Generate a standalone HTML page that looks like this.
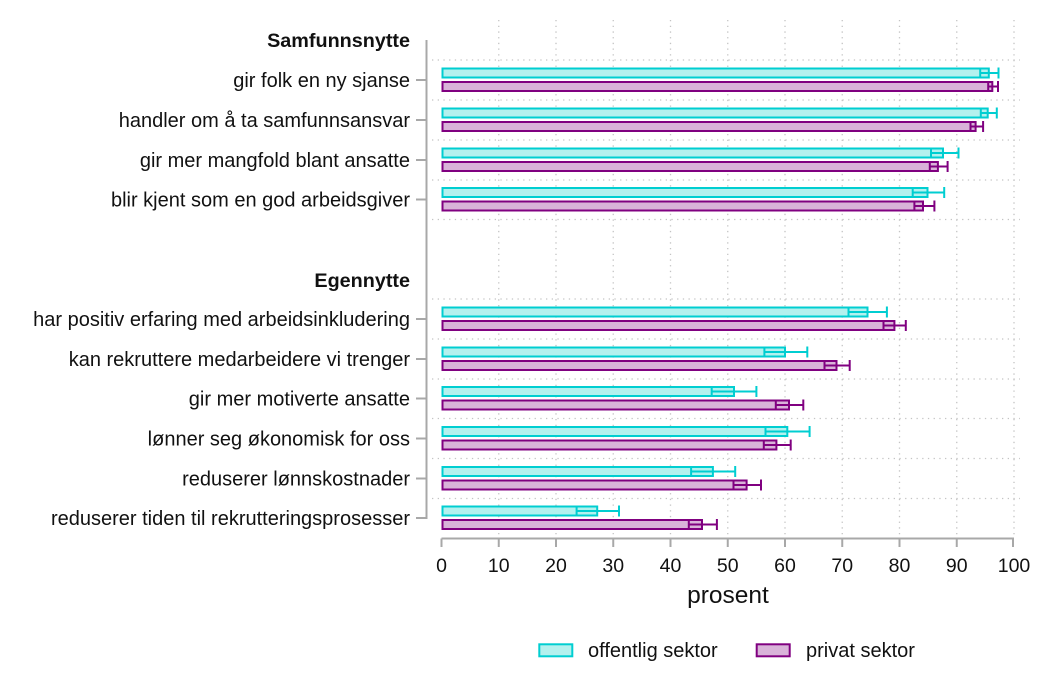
<!DOCTYPE html>
<html>
<head>
<meta charset="utf-8">
<style>
  html, body { margin: 0; padding: 0; background: #ffffff; }
  svg { display: block; }
  text { font-family: "Liberation Sans", Arial, sans-serif; fill: #111; }
</style>
</head>
<body>
<svg width="1047" height="696" viewBox="0 0 1047 696" xmlns="http://www.w3.org/2000/svg">
  <rect x="0" y="0" width="1047" height="696" fill="#fff"/>

  <!-- vertical gridlines -->
  <g stroke="#c4c4c4" stroke-width="1.3" stroke-dasharray="1.3 4.4" fill="none">
    <line x1="498.75" y1="20" x2="498.75" y2="536"/>
    <line x1="556" y1="20" x2="556" y2="536"/>
    <line x1="613.25" y1="20" x2="613.25" y2="536"/>
    <line x1="670.5" y1="20" x2="670.5" y2="536"/>
    <line x1="727.75" y1="20" x2="727.75" y2="536"/>
    <line x1="785" y1="20" x2="785" y2="536"/>
    <line x1="842.25" y1="20" x2="842.25" y2="536"/>
    <line x1="899.5" y1="20" x2="899.5" y2="536"/>
    <line x1="956.75" y1="20" x2="956.75" y2="536"/>
    <line x1="1014" y1="20" x2="1014" y2="536"/>
  </g>
  <!-- horizontal gridlines -->
  <g stroke="#c4c4c4" stroke-width="1.3" stroke-dasharray="1.3 4.4" fill="none">
    <line x1="432" y1="60" x2="1020" y2="60"/>
    <line x1="432" y1="100" x2="1020" y2="100"/>
    <line x1="432" y1="140" x2="1020" y2="140"/>
    <line x1="432" y1="180" x2="1020" y2="180"/>
    <line x1="432" y1="219.5" x2="1020" y2="219.5"/>
    <line x1="432" y1="299" x2="1020" y2="299"/>
    <line x1="432" y1="339" x2="1020" y2="339"/>
    <line x1="432" y1="379" x2="1020" y2="379"/>
    <line x1="432" y1="418.5" x2="1020" y2="418.5"/>
    <line x1="432" y1="458.5" x2="1020" y2="458.5"/>
    <line x1="432" y1="498.5" x2="1020" y2="498.5"/>
  </g>

  <!-- axes -->
  <g stroke="#a8a8a8" stroke-width="2" fill="none">
    <line x1="426.5" y1="40" x2="426.5" y2="519"/>
    <line x1="416" y1="80" x2="426.5" y2="80"/>
    <line x1="416" y1="120" x2="426.5" y2="120"/>
    <line x1="416" y1="160" x2="426.5" y2="160"/>
    <line x1="416" y1="199.5" x2="426.5" y2="199.5"/>
    <line x1="416" y1="319" x2="426.5" y2="319"/>
    <line x1="416" y1="359" x2="426.5" y2="359"/>
    <line x1="416" y1="398.5" x2="426.5" y2="398.5"/>
    <line x1="416" y1="438.5" x2="426.5" y2="438.5"/>
    <line x1="416" y1="478.5" x2="426.5" y2="478.5"/>
    <line x1="416" y1="518" x2="426.5" y2="518"/>

    <line x1="441.5" y1="538.5" x2="1014" y2="538.5"/>
    <line x1="441.5" y1="538.5" x2="441.5" y2="547"/>
    <line x1="498.75" y1="538.5" x2="498.75" y2="547"/>
    <line x1="556" y1="538.5" x2="556" y2="547"/>
    <line x1="613.25" y1="538.5" x2="613.25" y2="547"/>
    <line x1="670.5" y1="538.5" x2="670.5" y2="547"/>
    <line x1="727.75" y1="538.5" x2="727.75" y2="547"/>
    <line x1="785" y1="538.5" x2="785" y2="547"/>
    <line x1="842.25" y1="538.5" x2="842.25" y2="547"/>
    <line x1="899.5" y1="538.5" x2="899.5" y2="547"/>
    <line x1="956.75" y1="538.5" x2="956.75" y2="547"/>
    <line x1="1013" y1="538.5" x2="1013" y2="547"/>
  </g>

  <!-- x tick labels -->
  <g font-size="19.5" text-anchor="middle">
    <text x="441.5" y="572">0</text>
    <text x="498.75" y="572">10</text>
    <text x="556" y="572">20</text>
    <text x="613.25" y="572">30</text>
    <text x="670.5" y="572">40</text>
    <text x="727.75" y="572">50</text>
    <text x="785" y="572">60</text>
    <text x="842.25" y="572">70</text>
    <text x="899.5" y="572">80</text>
    <text x="956.75" y="572">90</text>
    <text x="1014" y="572">100</text>
  </g>
  <text x="728" y="603" font-size="24.5" text-anchor="middle">prosent</text>

  <!-- y labels -->
  <g font-size="20" text-anchor="end">
    <text x="410" y="47" font-weight="bold" font-size="19.8">Samfunnsnytte</text>
    <text x="410" y="87">gir folk en ny sjanse</text>
    <text x="410" y="127">handler om å ta samfunnsansvar</text>
    <text x="410" y="167">gir mer mangfold blant ansatte</text>
    <text x="410" y="206.5">blir kjent som en god arbeidsgiver</text>
    <text x="410" y="287" font-weight="bold" font-size="19.8">Egennytte</text>
    <text x="410" y="326">har positiv erfaring med arbeidsinkludering</text>
    <text x="410" y="366">kan rekruttere medarbeidere vi trenger</text>
    <text x="410" y="405.5">gir mer motiverte ansatte</text>
    <text x="410" y="445.5">lønner seg økonomisk for oss</text>
    <text x="410" y="485.5">reduserer lønnskostnader</text>
    <text x="410" y="525">reduserer tiden til rekrutteringsprosesser</text>
  </g>

  <!-- cyan bars (offentlig) -->
  <g fill="#B3F1EE" stroke="#00CED1" stroke-width="2">
    <rect x="442.5" y="68.5" width="546.3" height="9"/>
    <rect x="442.5" y="108.5" width="545.2" height="9"/>
    <rect x="442.5" y="148.5" width="500.5" height="9"/>
    <rect x="442.5" y="188" width="485" height="9"/>
    <rect x="442.5" y="307.5" width="425" height="9"/>
    <rect x="442.5" y="347.5" width="342.5" height="9"/>
    <rect x="442.5" y="387" width="291.5" height="9"/>
    <rect x="442.5" y="427" width="344.8" height="9"/>
    <rect x="442.5" y="467" width="270.4" height="9"/>
    <rect x="442.5" y="506.5" width="154.7" height="9"/>
  </g>
  <!-- cyan error bars -->
  <g stroke="#00CED1" stroke-width="2" fill="none">
    <path d="M980.2,68.5V77.5 M980.2,73H998.5 M998.5,67.5V78.5"/>
    <path d="M980.8,108.5V117.5 M980.8,113H996.8 M996.8,107.5V118.5"/>
    <path d="M931,148.5V157.5 M931,153H958.5 M958.5,147.5V158.5"/>
    <path d="M912.7,188V197 M912.7,192.5H944.2 M944.2,187V198"/>
    <path d="M848.5,307.5V316.5 M848.5,312H886.9 M886.9,306.5V317.5"/>
    <path d="M764.4,347.5V356.5 M764.4,352H807.3 M807.3,346.5V357.5"/>
    <path d="M711.7,387V396 M711.7,391.5H756.4 M756.4,386V397"/>
    <path d="M765.5,427V436 M765.5,431.5H809.6 M809.6,426V437"/>
    <path d="M691.1,467V476 M691.1,471.5H735.2 M735.2,466V477"/>
    <path d="M576.6,506.5V515.5 M576.6,511H619 M619,505.5V516.5"/>
  </g>

  <!-- purple bars (privat) -->
  <g fill="#D9B3D9" stroke="#800080" stroke-width="2">
    <rect x="442.5" y="82" width="549.8" height="9"/>
    <rect x="442.5" y="122" width="533.1" height="9"/>
    <rect x="442.5" y="162" width="495.4" height="9"/>
    <rect x="442.5" y="201.5" width="480.5" height="9"/>
    <rect x="442.5" y="321" width="451.9" height="9"/>
    <rect x="442.5" y="361" width="394" height="9"/>
    <rect x="442.5" y="400.5" width="346.5" height="9"/>
    <rect x="442.5" y="440.5" width="333.9" height="9"/>
    <rect x="442.5" y="480.5" width="304.1" height="9"/>
    <rect x="442.5" y="520" width="259.5" height="9"/>
  </g>
  <!-- purple error bars -->
  <g stroke="#800080" stroke-width="2" fill="none">
    <path d="M988.2,82V91 M988.2,86.5H998 M998,81V92"/>
    <path d="M970.5,122V131 M970.5,126.5H983.1 M983.1,121V132"/>
    <path d="M929.8,162V171 M929.8,166.5H947.6 M947.6,161V172"/>
    <path d="M914.4,201.5V210.5 M914.4,206H934.4 M934.4,200.5V211.5"/>
    <path d="M883.5,321V330 M883.5,325.5H905.8 M905.8,320V331"/>
    <path d="M824.5,361V370 M824.5,365.5H849.7 M849.7,360V371"/>
    <path d="M775.8,400.5V409.5 M775.8,405H803.3 M803.3,399.5V410.5"/>
    <path d="M763.8,440.5V449.5 M763.8,445H790.7 M790.7,439.5V450.5"/>
    <path d="M733.5,480.5V489.5 M733.5,485H761 M761,479.5V490.5"/>
    <path d="M688.8,520V529 M688.8,524.5H716.9 M716.9,519V530"/>
  </g>

  <!-- legend -->
  <rect x="539.3" y="644.3" width="33" height="12" fill="#B3F1EE" stroke="#00CED1" stroke-width="2"/>
  <text x="588" y="657" font-size="20">offentlig sektor</text>
  <rect x="756.7" y="644.3" width="33" height="12" fill="#D9B3D9" stroke="#800080" stroke-width="2"/>
  <text x="806" y="657" font-size="20">privat sektor</text>
</svg>
</body>
</html>
